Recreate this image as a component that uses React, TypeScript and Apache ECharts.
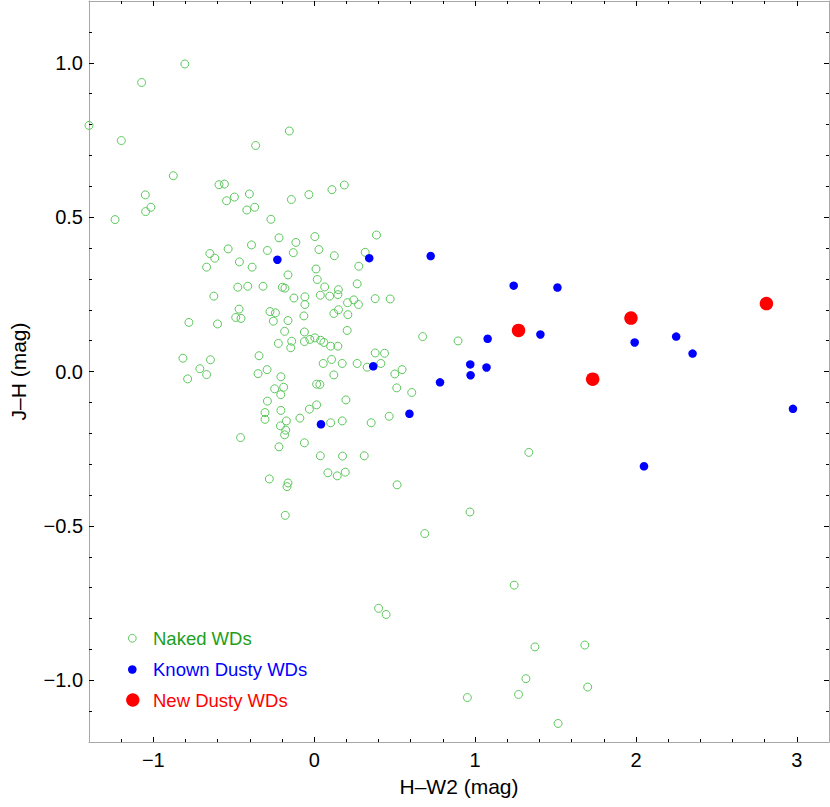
import React, { useEffect, useRef } from "react";
import * as echarts from "echarts";

// ---- axis ranges & ticks ----
const X_RANGE = [-1.4, 3.2];
const Y_RANGE = [-1.2, 1.2];
const X_MAJOR = [-1, 0, 1, 2, 3];
const Y_MAJOR = [-1, -0.5, 0, 0.5, 1];
const X_MINOR_STEP = 0.2;
const Y_MINOR_STEP = 0.1;

const X_TITLE = "H\u2013W2 (mag)";
const Y_TITLE = "J\u2013H (mag)";
const SERIES_NAMES = ["Naked WDs", "Known Dusty WDs", "New Dusty WDs"];

// ---- data: [H-W2, J-H] ----
const NAKED_WDS = [
  [-0.804, 0.996], [-1.073, 0.936], [-1.4, 0.797], [-1.199, 0.748], [-0.876, 0.634],
  [-0.364, 0.732], [-0.592, 0.605], [-0.558, 0.607], [-0.545, 0.553], [-0.496, 0.565],
  [-0.403, 0.575], [-0.419, 0.523], [-0.37, 0.532], [-1.05, 0.572], [-1.015, 0.532],
  [-1.048, 0.518], [-1.238, 0.492], [-0.155, 0.779], [-0.142, 0.557], [-0.033, 0.573],
  [0.11, 0.589], [0.187, 0.604], [-0.269, 0.493], [-0.219, 0.433], [0.004, 0.437],
  [-0.114, 0.418], [-0.39, 0.41], [-0.535, 0.397], [-0.291, 0.392], [-0.13, 0.385],
  [0.029, 0.395], [0.125, 0.375], [-0.649, 0.382], [-0.618, 0.367], [-0.465, 0.355],
  [-0.669, 0.338], [-0.386, 0.338], [0.011, 0.332], [-0.163, 0.313], [0.019, 0.298],
  [0.277, 0.341], [0.267, 0.284], [0.065, 0.274], [0.15, 0.265], [-0.475, 0.273],
  [-0.413, 0.276], [-0.318, 0.276], [-0.198, 0.273], [-0.182, 0.27], [-0.624, 0.244],
  [-0.126, 0.238], [-0.058, 0.242], [-0.058, 0.217], [0.038, 0.247], [0.096, 0.244],
  [0.147, 0.249], [0.207, 0.223], [0.246, 0.232], [0.275, 0.217], [0.379, 0.236],
  [-0.467, 0.202], [-0.488, 0.175], [-0.455, 0.172], [-0.779, 0.159], [-0.601, 0.154],
  [-0.275, 0.194], [-0.241, 0.19], [-0.254, 0.163], [-0.163, 0.165], [-0.064, 0.18],
  [0.151, 0.2], [0.209, 0.184], [0.122, 0.188], [0.205, 0.133], [-0.184, 0.13],
  [-0.061, 0.128], [-0.223, 0.091], [-0.14, 0.098], [-0.146, 0.077], [-0.061, 0.097],
  [-0.027, 0.104], [0.004, 0.109], [0.04, 0.101], [0.06, 0.094], [0.102, 0.082],
  [0.147, 0.082], [-0.343, 0.051], [-0.816, 0.043], [-0.645, 0.038], [-0.711, 0.009],
  [-0.669, -0.01], [-0.787, -0.024], [-0.349, -0.007], [-0.293, 0.006], [0.108, 0.039],
  [0.056, 0.026], [0.174, 0.026], [0.267, 0.026], [0.329, 0.014], [0.379, 0.06],
  [0.122, -0.011], [-0.207, -0.017], [-0.246, -0.056], [-0.19, -0.051], [-0.208, -0.075],
  [0.015, -0.041], [0.035, -0.042], [-0.291, -0.096], [-0.306, -0.133], [-0.306, -0.155],
  [-0.207, -0.126], [-0.03, -0.122], [0.015, -0.108], [0.197, -0.092], [-0.089, -0.151],
  [0.102, -0.166], [0.174, -0.16], [0.354, -0.166], [-0.173, -0.16], [-0.21, -0.176],
  [-0.177, -0.19], [-0.184, -0.205], [-0.458, -0.214], [-0.219, -0.244], [-0.061, -0.231],
  [0.038, -0.273], [0.176, -0.274], [0.311, -0.273], [0.085, -0.328], [0.143, -0.338],
  [0.193, -0.326], [-0.279, -0.348], [-0.163, -0.361], [-0.169, -0.373], [-0.18, -0.466],
  [0.387, 0.442], [0.317, 0.386], [0.472, 0.235], [0.437, 0.059], [0.674, 0.113],
  [0.894, 0.099], [0.414, 0.026], [0.546, 0.006], [0.501, -0.008], [0.513, -0.053],
  [0.606, -0.068], [0.466, -0.145], [1.334, -0.262], [0.515, -0.367], [0.968, -0.455],
  [0.687, -0.525], [1.243, -0.692], [0.4, -0.767], [0.447, -0.787], [1.372, -0.892],
  [1.682, -0.886], [1.316, -0.995], [1.7, -1.022], [0.952, -1.056], [1.27, -1.046],
  [1.516, -1.14],
];

const KNOWN_DUSTY_WDS = [
  [-0.229, 0.362], [0.367, 0.017], [0.042, -0.171], [0.342, 0.367], [0.724, 0.374],
  [1.078, 0.106], [0.97, 0.023], [0.972, -0.012], [1.071, 0.013], [0.782, -0.035],
  [0.592, -0.137], [1.24, 0.278], [1.512, 0.272], [1.406, 0.12], [1.992, 0.094],
  [2.25, 0.113], [2.352, 0.058], [2.976, -0.121], [2.05, -0.307],
];

const NEW_DUSTY_WDS = [
  [1.27, 0.133], [1.969, 0.173], [2.811, 0.22], [1.731, -0.025],
];

// ---- styles ----
const FONT = "'Liberation Sans', Arial, Helvetica, sans-serif";
const GREEN = "#5cc85c";
const GREEN_TEXT = "#1c9f1c";
const BLUE = "#0000ff";
const RED = "#ff0000";
const FRAME = "#a8a8a8";

function minorValues(min: number, max: number, step: number, major: number[]) {
  const out: number[] = [];
  const start = Math.ceil(min / step - 1e-9);
  const end = Math.floor(max / step + 1e-9);
  for (let i = start; i <= end; i++) {
    const v = Math.round(i * step * 1e6) / 1e6;
    if (v <= min + 1e-9 || v >= max - 1e-9) continue;
    if (major.some((m) => Math.abs(m - v) < 1e-9)) continue;
    out.push(v);
  }
  return out;
}

const minus = (s: string) => s.replace("-", "\u2212");

export default function App() {
  const ref = useRef<HTMLDivElement>(null);

  useEffect(() => {
    document.body.style.margin = "0";
    if (!ref.current) return;
    const chart = echarts.init(ref.current, undefined, { renderer: "svg" });

    const xMinor = minorValues(X_RANGE[0], X_RANGE[1], X_MINOR_STEP, X_MAJOR);
    const yMinor = minorValues(Y_RANGE[0], Y_RANGE[1], Y_MINOR_STEP, Y_MAJOR);

    const axisBase = (pos: string, values: number[], len: number, withLabels: boolean, isX: boolean, main: boolean) => ({
      type: "value",
      position: pos,
      min: isX ? X_RANGE[0] : Y_RANGE[0],
      max: isX ? X_RANGE[1] : Y_RANGE[1],
      splitLine: { show: false },
      axisLine: { show: main, onZero: false, lineStyle: { color: FRAME, width: 1 } },
      axisTick: {
        show: true,
        inside: true,
        length: len,
        customValues: values,
        lineStyle: { color: "#000", width: 1 },
      },
      axisLabel: withLabels
        ? {
            show: true,
            customValues: values,
            fontFamily: FONT,
            fontSize: 20,
            color: "#000",
            margin: isX ? 8 : 6,
            formatter: (v: number) => minus(isX ? String(Math.round(v)) : v.toFixed(1)),
          }
        : { show: false },
    });

    const option: any = {
      animation: false,
      backgroundColor: "#fff",
      grid: { left: 88, right: 1, top: 1, bottom: 65, containLabel: false },
      xAxis: [
        {
          ...axisBase("bottom", X_MAJOR, 5, true, true, true),
          name: X_TITLE,
          nameLocation: "middle",
          nameGap: 34,
          nameTextStyle: { fontFamily: FONT, fontSize: 21, color: "#000" },
        },
        axisBase("bottom", xMinor, 3, false, true, false),
        axisBase("top", X_MAJOR, 5, false, true, true),
        axisBase("top", xMinor, 3, false, true, false),
      ],
      yAxis: [
        {
          ...axisBase("left", Y_MAJOR, 5, true, false, true),
          name: Y_TITLE,
          nameLocation: "middle",
          nameGap: 60,
          nameRotate: 90,
          nameTextStyle: { fontFamily: FONT, fontSize: 21, color: "#000" },
        },
        axisBase("left", yMinor, 3, false, false, false),
        axisBase("right", Y_MAJOR, 5, false, false, true),
        axisBase("right", yMinor, 3, false, false, false),
      ],
      series: [
        {
          name: SERIES_NAMES[0],
          type: "scatter",
          xAxisIndex: 0,
          yAxisIndex: 0,
          data: NAKED_WDS,
          symbol: "circle",
          symbolSize: 8,
          clip: true,
          itemStyle: { color: "rgba(0,0,0,0)", borderColor: GREEN, borderWidth: 1, opacity: 1 },
          z: 2,
        },
        {
          name: SERIES_NAMES[1],
          type: "scatter",
          xAxisIndex: 0,
          yAxisIndex: 0,
          data: KNOWN_DUSTY_WDS,
          symbol: "circle",
          symbolSize: 8.5,
          itemStyle: { color: BLUE, opacity: 1 },
          z: 3,
        },
        {
          name: SERIES_NAMES[2],
          type: "scatter",
          xAxisIndex: 0,
          yAxisIndex: 0,
          data: NEW_DUSTY_WDS,
          symbol: "circle",
          symbolSize: 13.5,
          itemStyle: { color: RED, opacity: 1 },
          z: 4,
        },
      ],
      graphic: [
        { type: "circle", shape: { cx: 132.3, cy: 638.3, r: 3.9 }, style: { fill: "none", stroke: GREEN, lineWidth: 1 } },
        { type: "text", x: 153, y: 638.3, style: { text: SERIES_NAMES[0], fill: GREEN_TEXT, font: `18.5px ${FONT}`, verticalAlign: "middle", align: "left" } },
        { type: "circle", shape: { cx: 132.3, cy: 669.5, r: 4.3 }, style: { fill: BLUE } },
        { type: "text", x: 153, y: 669.5, style: { text: SERIES_NAMES[1], fill: BLUE, font: `18.5px ${FONT}`, verticalAlign: "middle", align: "left" } },
        { type: "circle", shape: { cx: 132.8, cy: 700, r: 6.7 }, style: { fill: RED } },
        { type: "text", x: 153, y: 700, style: { text: SERIES_NAMES[2], fill: RED, font: `18.5px ${FONT}`, verticalAlign: "middle", align: "left" } },
      ],
    };

    chart.setOption(option);
    return () => chart.dispose();
  }, []);

  return <div ref={ref} style={{ width: 830, height: 807 }} />;
}
